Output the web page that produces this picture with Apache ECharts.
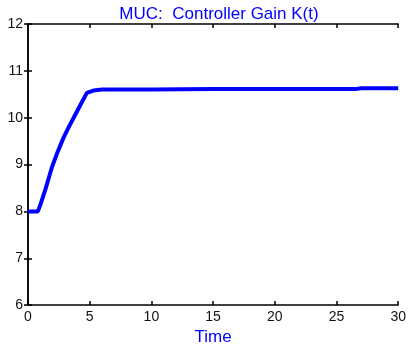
<!DOCTYPE html>
<html><head><meta charset="utf-8">
<script src="https://cdn.jsdelivr.net/npm/echarts@6/dist/echarts.min.js"></script>
<style>html,body{margin:0;padding:0;background:#fff}#c{width:409px;height:351px}</style>
</head><body><div id="c"></div>
<script>
var titleText = 'MUC:  Controller Gain K(t)';
var xLabel = 'Time';
var timeVals = [0, 0.8, 1.0, 1.41, 1.7, 1.95, 2.4, 2.89, 3.3, 3.7, 4.2, 4.77, 5.3, 6.0, 10, 15, 20, 26.5, 27, 30];
var gainVals = [8, 8, 8.14, 8.47, 8.73, 8.95, 9.27, 9.58, 9.8, 10, 10.25, 10.53, 10.58, 10.6, 10.6, 10.61, 10.61, 10.61, 10.63, 10.63];
var xTicks = [0, 30, 5];
var yTicks = [6, 12, 1];

var data = timeVals.map(function (t, i) { return [t, gainVals[i]]; });
var font = 'Liberation Sans, Arial, sans-serif';
var axisCommon = {
  axisLine: { show: true, lineStyle: { color: '#000', width: 1.5 } },
  axisTick: { show: true, inside: true, length: 4, lineStyle: { color: '#000', width: 1.5 } },
  splitLine: { show: false }
};
function ax(base, extra) { return Object.assign({}, axisCommon, base, extra); }
var chart = echarts.init(document.getElementById('c'), null, { renderer: 'canvas' });
chart.setOption({
  animation: false,
  title: { text: titleText, left: 214, top: 1, textAlign: 'center',
    textStyle: { color: '#0000ff', fontFamily: font, fontSize: 17, fontWeight: 'normal' } },
  grid: { left: 28, right: 9, top: 24, bottom: 44 },
  xAxis: [
    ax({ type: 'value', min: xTicks[0], max: xTicks[1], interval: xTicks[2], position: 'bottom',
      name: xLabel, nameLocation: 'middle', nameGap: 22,
      nameTextStyle: { color: '#0000ff', fontFamily: font, fontSize: 17 },
      axisLabel: { color: '#111', fontFamily: font, fontSize: 14, margin: 5 } }),
    ax({ type: 'value', min: xTicks[0], max: xTicks[1], interval: xTicks[2], position: 'top',
      axisLabel: { show: false } })
  ],
  yAxis: [
    ax({ type: 'value', min: yTicks[0], max: yTicks[1], interval: yTicks[2], position: 'left',
      axisLabel: { color: '#111', fontFamily: font, fontSize: 14, margin: 5 } }),
    ax({ type: 'value', min: yTicks[0], max: yTicks[1], interval: yTicks[2], position: 'right',
      axisLabel: { show: false } })
  ],
  series: [{
    type: 'line', data: data, showSymbol: false, smooth: false,
    lineStyle: { color: '#0000ff', width: 4 }
  }]
});
</script></body></html>
